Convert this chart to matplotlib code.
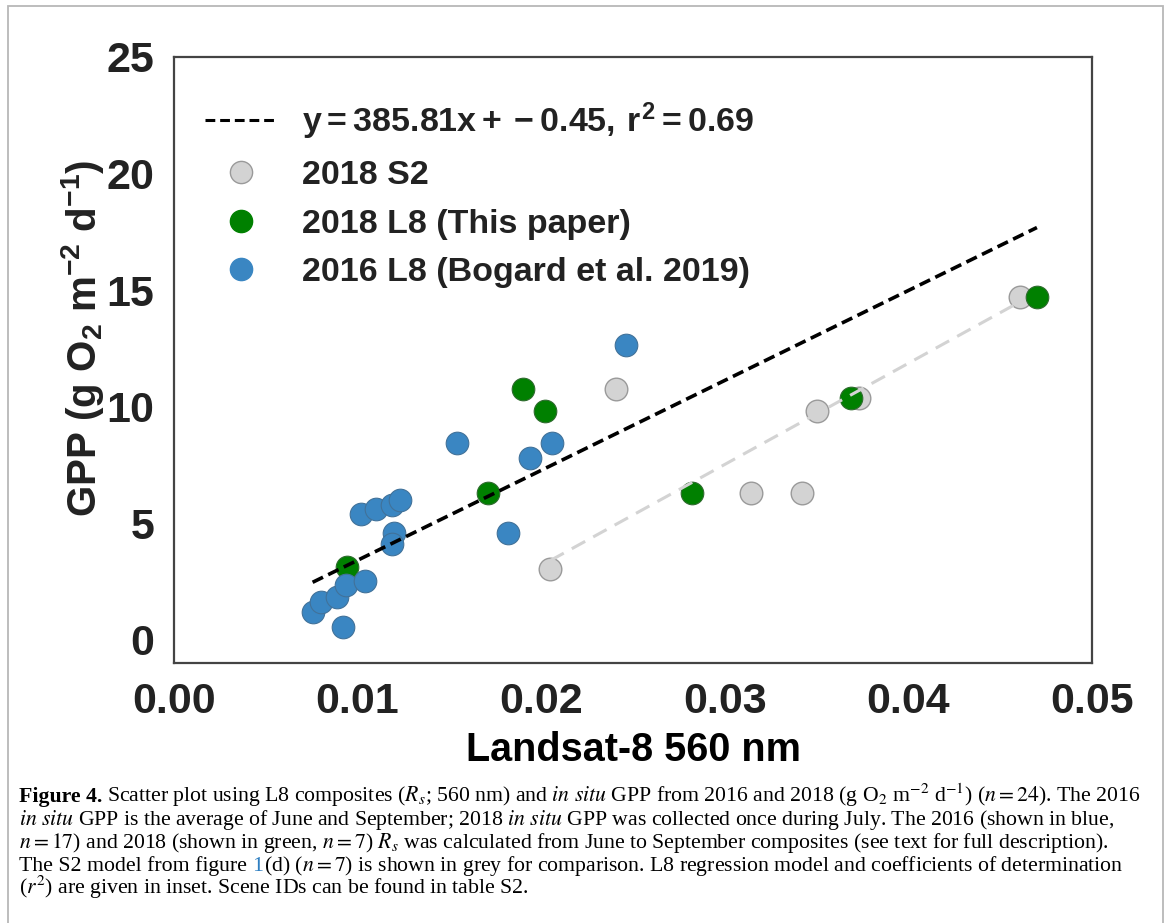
"""Scatter of L8 560 nm reflectance vs in situ GPP (figure 4 recreation)."""

import matplotlib

matplotlib.use("Agg")
import matplotlib.pyplot as plt
from matplotlib.lines import Line2D
from matplotlib.patches import Rectangle

# ---- data ----
s2_x = [0.0205, 0.0241, 0.0314, 0.0342, 0.0350, 0.0373, 0.0461]
s2_y = [3.05, 10.75, 6.3, 6.3, 9.8, 10.35, 14.7]

l8_2018_x = [0.0094, 0.0171, 0.0190, 0.0202, 0.0282, 0.03685, 0.0470]
l8_2018_y = [3.1, 6.3, 10.75, 9.8, 6.3, 10.35, 14.7]

l8_2016_x = [0.00755, 0.0080, 0.00886, 0.00935, 0.0104, 0.0092, 0.0102, 0.0110,
             0.0119, 0.0123, 0.0120, 0.01185, 0.0154, 0.0182, 0.0194, 0.0206, 0.0246]
l8_2016_y = [1.2, 1.63, 1.84, 2.36, 2.53, 0.56, 5.4, 5.62, 5.79, 6.0, 4.59, 4.12,
             8.45, 4.59, 7.8, 8.45, 12.65]

L8_SLOPE, L8_INTERCEPT, L8_R2 = 385.81, -0.45, 0.69
S2_SLOPE, S2_INTERCEPT = 434.0, -5.5

x_ticks = [0.00, 0.01, 0.02, 0.03, 0.04, 0.05]
y_ticks = [0, 5, 10, 15, 20, 25]

GREY = "#d3d3d3"
GREEN = "#008000"
BLUE = "#3a86c2"
TXT = "#222222"

# caption: list of (text, colour, weight, gap-before in points)
caption_lines = [
    [("Figure 4.", "black", "bold", 0),
     (r"Scatter plot using L8 composites ($R_s$; 560 nm) and "
      r"$\mathit{in\ situ}$ GPP from 2016 and 2018 (g O$_2$ m$^{-2}$ d$^{-1}$) ($n=24$). The 2016",
      "black", "normal", 3.0)],
    [(r"$\mathit{in\ situ}$ GPP is the average of June and September; 2018 $\mathit{in\ situ}$ "
      r"GPP was collected once during July. The 2016 (shown in blue,", "black", "normal", 0)],
    [(r"$n=17$) and 2018 (shown in green, $n=7$) $R_s$ was calculated from June to September "
      r"composites (see text for full description).", "black", "normal", 0)],
    [("The S2 model from figure", "black", "normal", 0), ("1", "#2f7fc1", "normal", 3.8),
     (r"(d) ($n=7$) is shown in grey for comparison. L8 regression model and coefficients of determination",
      "black", "normal", 0.3)],
    [(r"($r^2$) are given in inset. Scene IDs can be found in table S2.", "black", "normal", 0)],
]
caption_baselines = [802, 825, 848, 871, 894]  # px from top
CAP_SIZE = 15.7


def main() -> int:
    plt.rcParams["mathtext.fontset"] = "custom"
    plt.rcParams["mathtext.rm"] = "Liberation Sans:bold"
    plt.rcParams["mathtext.it"] = "Liberation Sans:bold"
    plt.rcParams["mathtext.bf"] = "Liberation Sans:bold"
    plt.rcParams["font.family"] = ["Liberation Sans", "DejaVu Sans"]

    W, H = 1170, 923
    fig = plt.figure(figsize=(W / 100, H / 100), dpi=100)
    ax = fig.add_axes([174 / W, 1 - 663 / H, (1092 - 174) / W, (663 - 57) / H])

    ax.scatter(s2_x, s2_y, s=265, c=GREY, edgecolors="#9a9a9a", linewidths=1.0, zorder=2)
    ax.scatter(l8_2018_x, l8_2018_y, s=265, c=GREEN, edgecolors="#2e6b2e", linewidths=0.8, zorder=3)
    ax.scatter(l8_2016_x, l8_2016_y, s=265, c=BLUE, edgecolors="#41729a", linewidths=0.8, zorder=4)

    all_x = l8_2016_x + l8_2018_x
    lx = [min(all_x), max(all_x)]
    ax.plot(lx, [L8_SLOPE * v + L8_INTERCEPT for v in lx], ls=(0, (3.2, 1.6)),
            color="black", lw=2.6, zorder=6)
    sx = [min(s2_x), max(s2_x)]
    ax.plot(sx, [S2_SLOPE * v + S2_INTERCEPT for v in sx], ls=(0, (5, 3)),
            color=GREY, lw=2.2, zorder=5)

    ax.set_xlim(0, 0.05)
    ax.set_ylim(-1, 25)
    ax.set_xticks(x_ticks)
    ax.set_xticklabels([f"{v:.2f}" for v in x_ticks])
    ax.set_yticks(y_ticks)
    ax.tick_params(length=0, labelsize=31, labelcolor=TXT, pad=14)
    for lab in ax.get_xticklabels() + ax.get_yticklabels():
        lab.set_fontweight("bold")
    for sp in ax.spines.values():
        sp.set_color("#444444")
        sp.set_linewidth(1.6)

    ax.set_xlabel("Landsat-8 560 nm", fontsize=28.5, fontweight="bold", color="black", labelpad=6)
    ax.set_ylabel(r"GPP (g O$_2$ m$^{-2}$ d$^{-1}$)", fontsize=29, fontweight="bold", color=TXT)
    ax.yaxis.set_label_coords(-0.074, 0.535)

    handles = [
        Line2D([], [], ls=(0, (3.2, 1.6)), color="black", lw=2.2),
        Line2D([], [], ls="", marker="o", ms=16, mfc=GREY, mec="#9a9a9a"),
        Line2D([], [], ls="", marker="o", ms=16, mfc=GREEN, mec=GREEN),
        Line2D([], [], ls="", marker="o", ms=16, mfc=BLUE, mec=BLUE),
    ]
    labels = [
        rf"$y=385.81x+-0.45,\,r^2={L8_R2:.2f}$",
        "2018 S2",
        "2018 L8 (This paper)",
        "2016 L8 (Bogard et al. 2019)",
    ]
    leg = ax.legend(handles, labels, loc="upper left", bbox_to_anchor=(0.034, 0.928),
                    frameon=False, borderpad=0, borderaxespad=0, handlelength=2.1,
                    handletextpad=0.75, labelspacing=0.52,
                    prop={"size": 24.5, "weight": "bold"})
    for t in leg.get_texts():
        t.set_color(TXT)

    # caption below the plot
    for segs, base in zip(caption_lines, caption_baselines):
        yb = H - base
        txt, col, wt, _ = segs[0]
        prev = fig.text(19 / W, yb / H, txt, fontsize=CAP_SIZE, family="Liberation Serif",
                        fontweight=wt, math_fontfamily="stix", color=col, va="baseline")
        for txt, col, wt, gap in segs[1:]:
            prev = ax.annotate(txt, xy=(1, yb), xycoords=(prev, "figure pixels"),
                               xytext=(gap, 0), textcoords="offset points",
                               fontsize=CAP_SIZE, family="Liberation Serif", fontweight=wt,
                               math_fontfamily="stix", color=col, va="baseline",
                               annotation_clip=False)

    fig.add_artist(Rectangle((8 / W, -0.05), (1163 - 8) / W, (917 / H) + 0.05,
                             transform=fig.transFigure, fill=False,
                             edgecolor="#b8b8b8", lw=1.3))

    fig.savefig("out.png", dpi=100)
    plt.close(fig)
    return 0


if __name__ == "__main__":
    raise SystemExit(main())
